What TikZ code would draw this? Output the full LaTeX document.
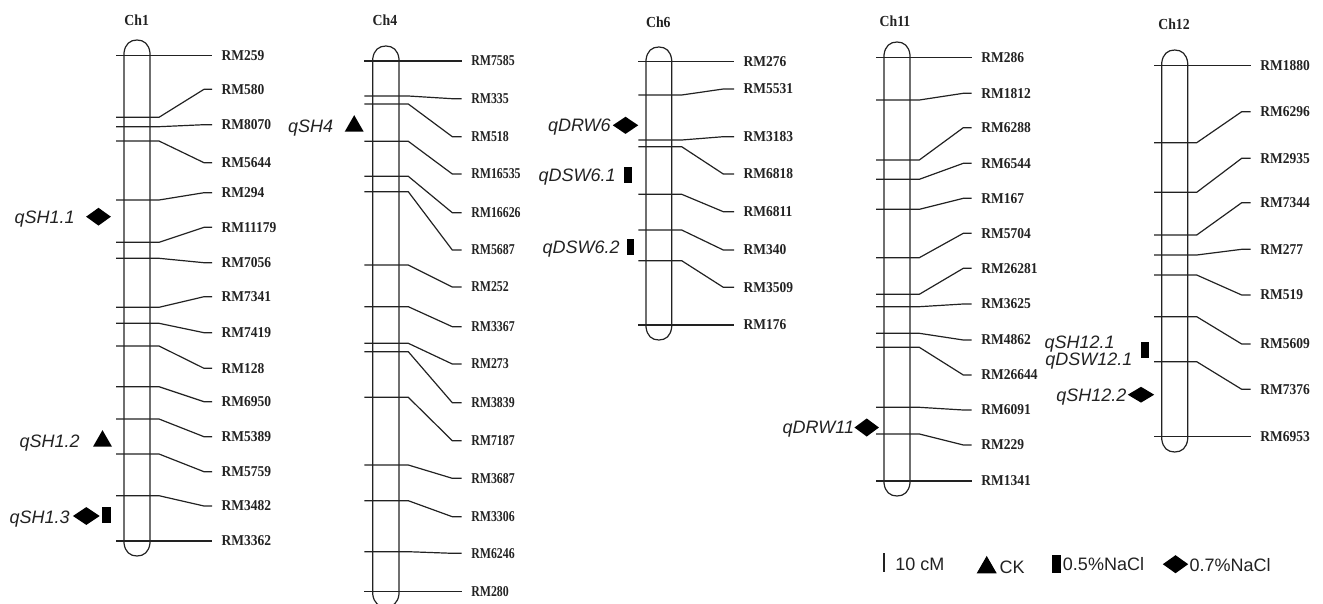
\documentclass[tikz,border=0pt]{standalone}
\usepackage{fontspec}
\usetikzlibrary{shapes.geometric}
\newfontfamily\mkfam{Liberation Serif}[FakeStretch=0.9]
\newfontfamily\mkfamB{Liberation Serif}[FakeStretch=0.79]
\newfontfamily\sansf{Liberation Sans}
\definecolor{ln}{HTML}{222222}
\tikzset{
  chr/.style={draw=ln, line width=0.9pt},
  mk/.style={anchor=west, inner xsep=7pt, inner ysep=0pt, text height=7.4pt, text depth=0pt, text=ln,
    font=\mkfam\bfseries\fontsize{11.25pt}{13pt}\selectfont},
  ttl/.style={inner sep=0pt, text=ln, font=\mkfam\bfseries\fontsize{11.5pt}{13pt}\selectfont},
  ql/.style={anchor=east, inner sep=0pt, text height=9.6pt, text depth=0pt, text=ln,
    font=\sansf\itshape\fontsize{13.5pt}{15pt}\selectfont},
  lg/.style={anchor=west, inner sep=0pt, text height=9.6pt, text depth=0pt, text=ln,
    font=\sansf\fontsize{13.5pt}{15pt}\selectfont},
  dia/.style={diamond, fill=black, inner sep=0pt, minimum width=#1},
  dia/.default={18.75pt},
}
\newcommand\drawchrom[9]{%
  \pgfmathsetmacro\chmid{(#1+#2)/2}%
  \draw[chr] (#1,#7) .. controls (#1+1,#7-9) and (\chmid-7,#7-13) .. (\chmid,#7-13)
     .. controls (\chmid+7,#7-13) and (#2-1,#7-9) .. (#2,#7) -- (#2,#8)
     .. controls (#2-1,#8+9) and (\chmid+7,#8+13) .. (\chmid,#8+13)
     .. controls (\chmid-7,#8+13) and (#1+1,#8+9) .. (#1,#8) -- cycle;
  \foreach \t/\l/\n in {#9} {
    \node[mk] (\n) at (#6,\l) {\n};
    \draw[chr] (#3,\t) -- (#4,\t) -- (#5,\l) -- (\n.west);
  }%
}
\newcommand\tri[3]{\fill[black] (#1-#3/2,#2) -- (#1+#3/2,#2) -- (#1,#2-#3*0.87) -- cycle;}
\begin{document}
\begin{tikzpicture}[x=0.75pt, y=-0.75pt]
\useasboundingbox (0,0) rectangle (1323,603);
% Ch1
\node[ttl] (t1) at (136.7,20.7) {Ch1};
\drawchrom{124}{150}{116}{159}{204}{212}{53}{543}{55.7/55.7/RM259, 117.3/89.3/RM580, 126.7/124.7/RM8070, 141/162.7/RM5644, 200/192.7/RM294, 242.3/227.3/RM11179, 258.3/262.7/RM7056, 307.3/296.7/RM7341, 323.3/332.7/RM7419, 346/368.3/RM128, 386.7/401.7/RM6950, 419/436.7/RM5389, 454/471.7/RM5759, 495.7/506/RM3482, 541/541/RM3362}
% Ch4
\node[ttl] (t4) at (385,20) {Ch4};
\begin{scope}[mk/.append style={font=\mkfamB\bfseries\fontsize{11.25pt}{13pt}\selectfont}]
\drawchrom{372.7}{399}{364.3}{408.3}{452.3}{461.7}{59}{594}{61/61/RM7585, 96/98.7/RM335, 104/136.7/RM518, 141.3/174/RM16535, 176.3/212.7/RM16626, 191.7/250/RM5687, 265/287/RM252, 306.7/326.7/RM3367, 343.3/364/RM273, 351.7/402.7/RM3839, 397.3/440.7/RM7187, 465/478.3/RM3687, 500.7/516.7/RM3306, 551.7/553.3/RM6246, 591.7/591.7/RM280}
\end{scope}
% Ch6
\node[ttl] (t6) at (658.3,22.7) {Ch6};
\drawchrom{646}{671.7}{638.3}{681.7}{723.3}{734}{60}{327}{61.7/61.7/RM276, 95/89/RM5531, 140/136.7/RM3183, 146.7/174/RM6818, 194.3/211.7/RM6811, 230/250/RM340, 260.7/287.3/RM3509, 325/325/RM176}
% Ch11
\node[ttl] (t11) at (895,21) {Ch11};
\drawchrom{884}{910}{876}{919.3}{963.3}{971.7}{55}{483}{57.7/57.7/RM286, 100/93.3/RM1812, 160/127.7/RM6288, 179.3/163.3/RM6544, 209.3/198.3/RM167, 257.7/233.3/RM5704, 294.3/268.3/RM26281, 306.7/304/RM3625, 333.3/340/RM4862, 347.3/375/RM26644, 407.3/410/RM6091, 434/445/RM229, 481/481/RM1341}
% Ch12
\node[ttl] (t12) at (1174,24.3) {Ch12};
\drawchrom{1161.7}{1187.7}{1154}{1196.7}{1241.7}{1250.7}{63}{439}{65.7/65.7/RM1880, 142.7/111.7/RM6296, 192.3/158.3/RM2935, 235/202.7/RM7344, 255/249.3/RM277, 275/295/RM519, 316.7/344/RM5609, 361.7/389.3/RM7376, 436.7/436.7/RM6953}
% QTLs
\node[ql] (q11) at (75,217) {qSH1.1};
\node[dia, minimum height=13.5pt] (d11) at (98.5,216.7) {};
\node[ql] (q12) at (80,441) {qSH1.2};
\tri{102.5}{446.7}{19}
\node[ql] (q13) at (70,517) {qSH1.3};
\node[dia=20.25pt, minimum height=13.5pt] (d13) at (86.3,516) {};
\fill[black] (101.7,507) rectangle (111,523);
\node[ql] (q4) at (333.3,126) {qSH4};
\tri{354.2}{131.7}{19}
\node[ql] (q6a) at (611,125) {qDRW6};
\node[dia=19.3pt, minimum height=13pt] (d6) at (625.5,125.3) {};
\node[ql] (q6b) at (616,175) {qDSW6.1};
\fill[black] (624,166.7) rectangle (631.7,182.7);
\node[ql] (q6c) at (620,247) {qDSW6.2};
\fill[black] (626.7,239.3) rectangle (634.3,255);
\node[ql] (q11a) at (854.3,427) {qDRW11};
\node[dia=18.5pt, minimum height=13.7pt] (d11b) at (866.7,427.5) {};
\node[ql] (q121) at (1115,342.5) {qSH12.1};
\node[ql] (q122) at (1132.7,359.5) {qDSW12.1};
\fill[black] (1141,342.3) rectangle (1149.3,358.3);
\node[ql] (q123) at (1126.7,395) {qSH12.2};
\node[dia=20pt, minimum height=12pt] (d12) at (1141,394.7) {};
% legend
\draw[ln, line width=1.3pt] (884.3,553.3) -- (884.3,571.7);
\node[lg] (l1) at (895,564) {10 cM};
\tri{986.7}{573.3}{20}
\node[lg] (l2) at (999.3,567) {CK};
\fill[black] (1051.7,555) rectangle (1060.7,573.3);
\node[lg] (l3) at (1062.7,564) {0.5\%NaCl};
\node[dia=19.2pt, minimum height=13.7pt] (d0) at (1175.5,564.2) {};
\node[lg] (l4) at (1189.3,565) {0.7\%NaCl};
\end{tikzpicture}
\end{document}
